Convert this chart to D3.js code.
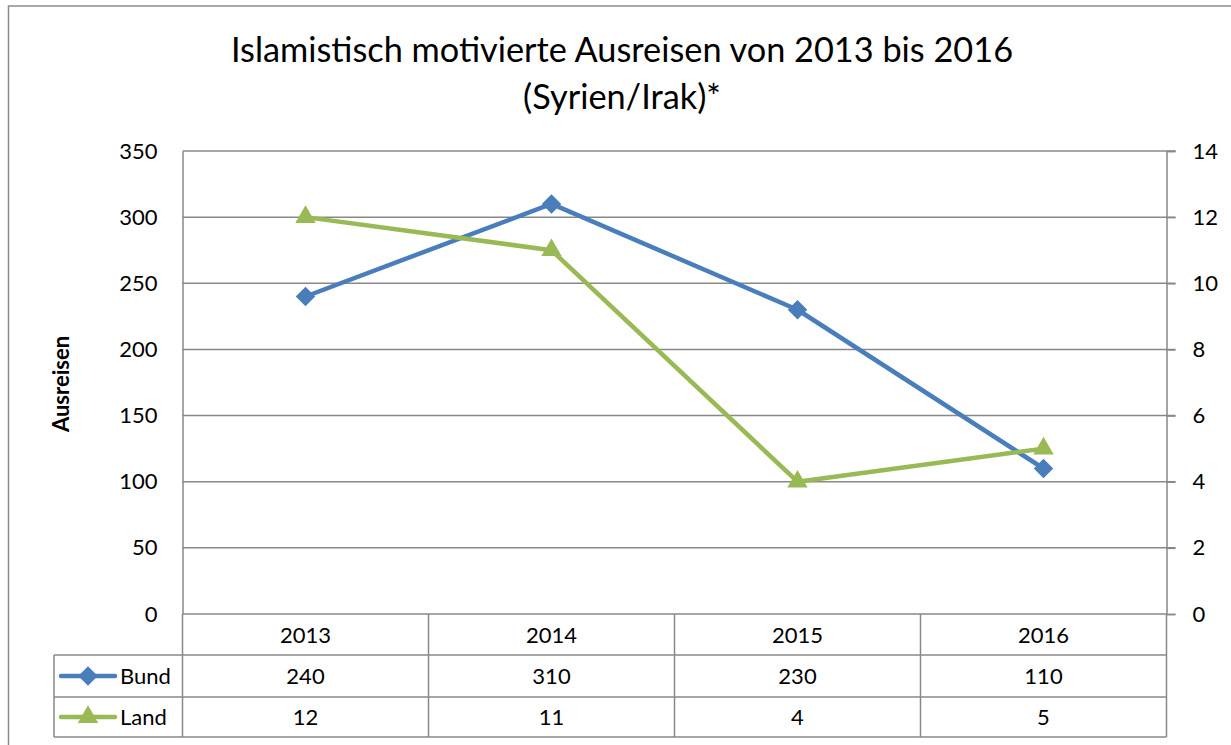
<!DOCTYPE html>
<html><head><meta charset="utf-8">
<script src="https://cdn.jsdelivr.net/npm/d3@7"></script>
<style>body{margin:0;background:#fff}svg{display:block}text{font-family:Lato,"Open Sans",sans-serif;fill:#000}</style>
</head><body>
<svg id="c" width="1231" height="745"></svg>
<script>
const titleLines = ["Islamistisch motivierte Ausreisen von 2013 bis 2016", "(Syrien/Irak)*"];
const years = ["2013", "2014", "2015", "2016"];
const bund = [240, 310, 230, 110];
const land = [12, 11, 4, 5];
const leftTicks = [0, 50, 100, 150, 200, 250, 300, 350];
const rightTicks = [0, 2, 4, 6, 8, 10, 12, 14];
const yTitle = "Ausreisen";

const svg = d3.select("#c");
const L = 182.5, R = 1166.5, T = 151, B = 614;
const grid = "#888888";
const blue = "#4A7EBB", green = "#98B954";

svg.append("rect").attr("x", 8.5).attr("y", 6).attr("width", 1240).attr("height", 760)
  .attr("fill", "#fff").attr("stroke", "#8c8c8c").attr("stroke-width", 1.5);

const x = d3.scaleBand().domain(years).range([L, R]).padding(0);
const yL = d3.scaleLinear().domain([0, 350]).range([B, T]);
const yR = d3.scaleLinear().domain([0, 14]).range([B, T]);

// title
svg.selectAll(".title").data(titleLines).join("text")
  .attr("x", 622).attr("y", (d, i) => i === 0 ? 62 : 109)
  .attr("text-anchor", "middle").attr("font-size", 34.3).text(d => d);

// gridlines
svg.append("g").selectAll("line").data(leftTicks.slice(1)).join("line")
  .attr("x1", L).attr("x2", R + 9).attr("y1", d => yL(d)).attr("y2", d => yL(d))
  .attr("stroke", grid).attr("stroke-width", 1.5);

// left axis
const gl = svg.append("g").attr("transform", `translate(${L},0)`)
  .call(d3.axisLeft(yL).tickValues(leftTicks).tickSize(0).tickPadding(25));
gl.select(".domain").attr("stroke", grid).attr("stroke-width", 1.5);
gl.selectAll("text").attr("font-size", 22).attr("font-family", "Lato").attr("fill", "#000");

// right axis
const gr = svg.append("g").attr("transform", `translate(${R},0)`)
  .call(d3.axisRight(yR).tickValues(rightTicks).tickSize(9).tickPadding(17));
gr.select(".domain").attr("stroke", grid).attr("stroke-width", 1.5);
gr.selectAll(".tick line").attr("stroke", grid).attr("stroke-width", 1.5);
gr.selectAll("text").attr("font-size", 22).attr("font-family", "Lato").attr("fill", "#000");

// y title
svg.append("text").attr("transform", "translate(69,384) rotate(-90)")
  .attr("text-anchor", "middle").attr("font-size", 22).attr("font-weight", "bold").text(yTitle);

// data table
const rowY = [614, 655, 697, 737];
const tg = svg.append("g");
const lineAttrs = s => s.attr("stroke", grid).attr("stroke-width", 1.5);
lineAttrs(tg.append("line").attr("x1", L).attr("x2", R).attr("y1", rowY[0]).attr("y2", rowY[0]));
[1, 2, 3].forEach(i => lineAttrs(tg.append("line").attr("x1", 54).attr("x2", R).attr("y1", rowY[i]).attr("y2", rowY[i])));
lineAttrs(tg.append("line").attr("x1", 54).attr("x2", 54).attr("y1", rowY[1]).attr("y2", rowY[3]));
const colEdges = years.map(d => x(d)).concat([R]);
colEdges.forEach(cx => lineAttrs(tg.append("line").attr("x1", cx).attr("x2", cx).attr("y1", rowY[0]).attr("y2", rowY[3])));

const cellText = (arr, r) => tg.append("g").selectAll("text").data(arr).join("text")
  .attr("x", (d, i) => x(years[i]) + x.bandwidth() / 2)
  .attr("y", (rowY[r] + rowY[r + 1]) / 2 + 8)
  .attr("text-anchor", "middle").attr("font-size", 22).text(d => d);
cellText(years, 0);
cellText(bund, 1);
cellText(land, 2);

// markers
const diamondPath = d3.symbol().type(d3.symbolSquare).size(190)();
const tri = d3.symbol().type(d3.symbolTriangle).size(180);
const keys = [{name: "Bund", color: blue, r: 1}, {name: "Land", color: green, r: 2}];
keys.forEach(k => {
  const cy = (rowY[k.r] + rowY[k.r + 1]) / 2;
  tg.append("line").attr("x1", 61).attr("x2", 115).attr("y1", cy).attr("y2", cy)
    .attr("stroke", k.color).attr("stroke-width", 4.5).attr("stroke-linecap", "round");
  if (k.r === 1) tg.append("path").attr("d", diamondPath).attr("transform", `translate(88,${cy}) rotate(45)`).attr("fill", k.color);
  else tg.append("path").attr("d", tri()).attr("transform", `translate(88,${cy})`).attr("fill", k.color);
  tg.append("text").attr("x", 120).attr("y", cy + 8).attr("font-size", 22).text(k.name);
});

// lines
const cx = (d, i) => x(years[i]) + x.bandwidth() / 2;
svg.append("path").datum(bund)
  .attr("d", d3.line().x(cx).y(d => yL(d)))
  .attr("fill", "none").attr("stroke", blue).attr("stroke-width", 4.5).attr("stroke-linejoin", "round");
svg.append("g").selectAll("path").data(bund).join("path")
  .attr("d", diamondPath).attr("transform", (d, i) => `translate(${cx(d, i)},${yL(d)}) rotate(45)`).attr("fill", blue);

svg.append("path").datum(land)
  .attr("d", d3.line().x(cx).y(d => yR(d)))
  .attr("fill", "none").attr("stroke", green).attr("stroke-width", 4.5).attr("stroke-linejoin", "round");
svg.append("g").selectAll("path").data(land).join("path")
  .attr("d", tri).attr("transform", (d, i) => `translate(${cx(d, i)},${yR(d)})`).attr("fill", green);
</script>
</body></html>
